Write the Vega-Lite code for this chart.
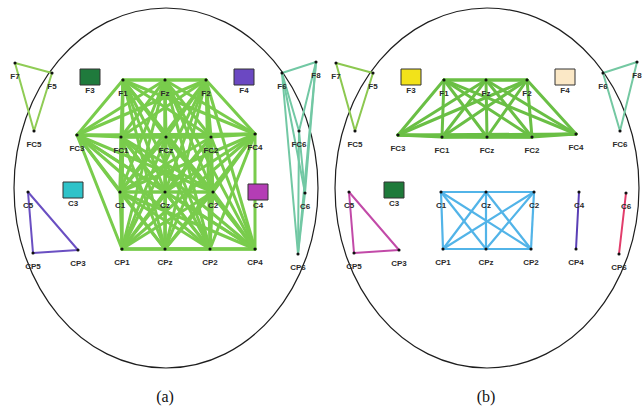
{
  "$schema": "https://vega.github.io/schema/vega-lite/v6.json",
  "padding": 0,
  "background": "white",
  "config": {"view": {"stroke": null}},
  "spacing": 0,
  "datasets": {
    "nodes": [
      {"name": "F7", "x": 15, "y": 63}, {"name": "F5", "x": 52, "y": 73}, {"name": "F3", "x": 90, "y": 77},
      {"name": "F1", "x": 123, "y": 80}, {"name": "Fz", "x": 165, "y": 80}, {"name": "F2", "x": 206, "y": 80},
      {"name": "F4", "x": 244, "y": 77}, {"name": "F6", "x": 282, "y": 73}, {"name": "F8", "x": 316, "y": 62},
      {"name": "FC5", "x": 34, "y": 131}, {"name": "FC3", "x": 77, "y": 135}, {"name": "FC1", "x": 121, "y": 137},
      {"name": "FCz", "x": 166, "y": 137}, {"name": "FC2", "x": 211, "y": 137}, {"name": "FC4", "x": 255, "y": 134},
      {"name": "FC6", "x": 299, "y": 131},
      {"name": "C5", "x": 28, "y": 192}, {"name": "C3", "x": 73, "y": 190}, {"name": "C1", "x": 120, "y": 192},
      {"name": "Cz", "x": 165, "y": 192}, {"name": "C2", "x": 213, "y": 192}, {"name": "C4", "x": 258, "y": 192},
      {"name": "C6", "x": 305, "y": 193},
      {"name": "CP5", "x": 33, "y": 253}, {"name": "CP3", "x": 78, "y": 250}, {"name": "CP1", "x": 122, "y": 249},
      {"name": "CPz", "x": 165, "y": 249}, {"name": "CP2", "x": 210, "y": 249}, {"name": "CP4", "x": 255, "y": 249},
      {"name": "CP6", "x": 298, "y": 254}
    ],
    "electrodes": [
      {"p": "a", "name": "F7", "sq": "none"}, {"p": "a", "name": "F5", "sq": "none"}, {"p": "a", "name": "F3", "sq": "aF3"},
      {"p": "a", "name": "F1", "sq": "none"}, {"p": "a", "name": "Fz", "sq": "none"}, {"p": "a", "name": "F2", "sq": "none"},
      {"p": "a", "name": "F4", "sq": "aF4"}, {"p": "a", "name": "F6", "sq": "none"}, {"p": "a", "name": "F8", "sq": "none"},
      {"p": "a", "name": "FC5", "sq": "none"}, {"p": "a", "name": "FC3", "sq": "none"}, {"p": "a", "name": "FC1", "sq": "none"},
      {"p": "a", "name": "FCz", "sq": "none"}, {"p": "a", "name": "FC2", "sq": "none"}, {"p": "a", "name": "FC4", "sq": "none"},
      {"p": "a", "name": "FC6", "sq": "none"},
      {"p": "a", "name": "C5", "sq": "none"}, {"p": "a", "name": "C3", "sq": "aC3"}, {"p": "a", "name": "C1", "sq": "none"},
      {"p": "a", "name": "Cz", "sq": "none"}, {"p": "a", "name": "C2", "sq": "none"}, {"p": "a", "name": "C4", "sq": "aC4"},
      {"p": "a", "name": "C6", "sq": "none"},
      {"p": "a", "name": "CP5", "sq": "none"}, {"p": "a", "name": "CP3", "sq": "none"}, {"p": "a", "name": "CP1", "sq": "none"},
      {"p": "a", "name": "CPz", "sq": "none"}, {"p": "a", "name": "CP2", "sq": "none"}, {"p": "a", "name": "CP4", "sq": "none"},
      {"p": "a", "name": "CP6", "sq": "none"},
      {"p": "b", "name": "F7", "sq": "none"}, {"p": "b", "name": "F5", "sq": "none"}, {"p": "b", "name": "F3", "sq": "bF3"},
      {"p": "b", "name": "F1", "sq": "none"}, {"p": "b", "name": "Fz", "sq": "none"}, {"p": "b", "name": "F2", "sq": "none"},
      {"p": "b", "name": "F4", "sq": "bF4"}, {"p": "b", "name": "F6", "sq": "none"}, {"p": "b", "name": "F8", "sq": "none"},
      {"p": "b", "name": "FC5", "sq": "none"}, {"p": "b", "name": "FC3", "sq": "none"}, {"p": "b", "name": "FC1", "sq": "none"},
      {"p": "b", "name": "FCz", "sq": "none"}, {"p": "b", "name": "FC2", "sq": "none"}, {"p": "b", "name": "FC4", "sq": "none"},
      {"p": "b", "name": "FC6", "sq": "none"},
      {"p": "b", "name": "C5", "sq": "none"}, {"p": "b", "name": "C3", "sq": "bC3"}, {"p": "b", "name": "C1", "sq": "none"},
      {"p": "b", "name": "Cz", "sq": "none"}, {"p": "b", "name": "C2", "sq": "none"}, {"p": "b", "name": "C4", "sq": "none"},
      {"p": "b", "name": "C6", "sq": "none"},
      {"p": "b", "name": "CP5", "sq": "none"}, {"p": "b", "name": "CP3", "sq": "none"}, {"p": "b", "name": "CP1", "sq": "none"},
      {"p": "b", "name": "CPz", "sq": "none"}, {"p": "b", "name": "CP2", "sq": "none"}, {"p": "b", "name": "CP4", "sq": "none"},
      {"p": "b", "name": "CP6", "sq": "none"}
    ],
    "edges": [
      {"p": "a", "g": "a1", "s": "F1", "t": ["Fz","F2","FC3","FC1","FCz","FC2","FC4","C1","Cz","C2","CP1","CPz","CP2","CP4"]},
      {"p": "a", "g": "a1", "s": "Fz", "t": ["F2","FC3","FC1","FCz","FC2","FC4","C1","Cz","C2","CP1","CPz","CP2","CP4"]},
      {"p": "a", "g": "a1", "s": "F2", "t": ["FC3","FC1","FCz","FC2","FC4","C1","Cz","C2","CP1","CPz","CP2","CP4"]},
      {"p": "a", "g": "a1", "s": "FC3", "t": ["FC1","FCz","FC2","FC4","C1","Cz","C2","CP1","CPz","CP2","CP4"]},
      {"p": "a", "g": "a1", "s": "FC1", "t": ["FCz","FC2","FC4","C1","Cz","C2","CP1","CPz","CP2","CP4"]},
      {"p": "a", "g": "a1", "s": "FCz", "t": ["FC2","FC4","C1","Cz","C2","CP1","CPz","CP2","CP4"]},
      {"p": "a", "g": "a1", "s": "FC2", "t": ["FC4","C1","Cz","C2","CP1","CPz","CP2","CP4"]},
      {"p": "a", "g": "a1", "s": "FC4", "t": ["C1","Cz","C2","CP1","CPz","CP2","CP4"]},
      {"p": "a", "g": "a1", "s": "C1", "t": ["Cz","C2","CP1","CPz","CP2","CP4"]},
      {"p": "a", "g": "a1", "s": "Cz", "t": ["C2","CP1","CPz","CP2","CP4"]},
      {"p": "a", "g": "a1", "s": "C2", "t": ["CP1","CPz","CP2","CP4"]},
      {"p": "a", "g": "a1", "s": "CP1", "t": ["CPz","CP2","CP4"]},
      {"p": "a", "g": "a1", "s": "CPz", "t": ["CP2","CP4"]},
      {"p": "a", "g": "a1", "s": "CP2", "t": ["CP4"]},
      {"p": "a", "g": "a2", "s": "F7", "t": ["F5","FC5"]},
      {"p": "a", "g": "a2", "s": "F5", "t": ["FC5"]},
      {"p": "a", "g": "a3", "s": "F6", "t": ["F8","FC6","C6","CP6"]},
      {"p": "a", "g": "a3", "s": "F8", "t": ["FC6","C6","CP6"]},
      {"p": "a", "g": "a3", "s": "FC6", "t": ["C6","CP6"]},
      {"p": "a", "g": "a3", "s": "C6", "t": ["CP6"]},
      {"p": "a", "g": "a4", "s": "C5", "t": ["CP5","CP3"]},
      {"p": "a", "g": "a4", "s": "CP5", "t": ["CP3"]},
      {"p": "b", "g": "b1", "s": "F1", "t": ["Fz","F2","FC3","FC1","FCz","FC2","FC4"]},
      {"p": "b", "g": "b1", "s": "Fz", "t": ["F2","FC3","FC1","FCz","FC2","FC4"]},
      {"p": "b", "g": "b1", "s": "F2", "t": ["FC3","FC1","FCz","FC2","FC4"]},
      {"p": "b", "g": "b1", "s": "FC3", "t": ["FC1","FCz","FC2","FC4"]},
      {"p": "b", "g": "b1", "s": "FC1", "t": ["FCz","FC2","FC4"]},
      {"p": "b", "g": "b1", "s": "FCz", "t": ["FC2","FC4"]},
      {"p": "b", "g": "b1", "s": "FC2", "t": ["FC4"]},
      {"p": "b", "g": "b2", "s": "F7", "t": ["F5","FC5"]},
      {"p": "b", "g": "b2", "s": "F5", "t": ["FC5"]},
      {"p": "b", "g": "b3", "s": "F6", "t": ["F8","FC6"]},
      {"p": "b", "g": "b3", "s": "F8", "t": ["FC6"]},
      {"p": "b", "g": "b4", "s": "C5", "t": ["CP5","CP3"]},
      {"p": "b", "g": "b4", "s": "CP5", "t": ["CP3"]},
      {"p": "b", "g": "b5", "s": "C1", "t": ["Cz","C2","CP1","CPz","CP2"]},
      {"p": "b", "g": "b5", "s": "Cz", "t": ["C2","CP1","CPz","CP2"]},
      {"p": "b", "g": "b5", "s": "C2", "t": ["CP1","CPz","CP2"]},
      {"p": "b", "g": "b5", "s": "CP1", "t": ["CPz","CP2"]},
      {"p": "b", "g": "b5", "s": "CPz", "t": ["CP2"]},
      {"p": "b", "g": "b6", "s": "C4", "t": ["CP4"]},
      {"p": "b", "g": "b7", "s": "C6", "t": ["CP6"]}
    ],
    "captions": [
      {"p": "a", "cap": "(a)"}, {"p": "b", "cap": "(b)"}
    ]
  },
  "hconcat": [
    {
      "width": 321, "height": 409,
      "layer": [
        {
          "data": {"values": [{"head": "a"}]},
          "mark": {"type": "point", "shape": "M 0.8444 0 C 0.8444 0.5523 0.4664 1 0 1 C -0.4664 1 -0.8444 0.5523 -0.8444 0 C -0.8444 -0.5523 -0.4664 -1 0 -1 C 0.4664 -1 0.8444 -0.5523 0.8444 0 Z", "size": 129600, "filled": false, "stroke": "#1e1e1e", "strokeWidth": 1.2, "opacity": 1},
          "encoding": {
            "x": {"datum": 166, "type": "quantitative", "scale": {"domain": [0, 321], "nice": false, "zero": false}, "axis": null},
            "y": {"datum": 188, "type": "quantitative", "scale": {"domain": [0, 409], "nice": false, "zero": false, "reverse": true}, "axis": null}
          }
        },
        {
          "data": {"name": "edges"},
          "transform": [
            {"filter": "datum.p === 'a'"},
            {"flatten": ["t"]},
            {"lookup": "s", "from": {"data": {"name": "nodes"}, "key": "name", "fields": ["x", "y"]}, "as": ["x1", "y1"]},
            {"lookup": "t", "from": {"data": {"name": "nodes"}, "key": "name", "fields": ["x", "y"]}, "as": ["x2", "y2"]}
          ],
          "mark": {"type": "rule", "strokeCap": "round"},
          "encoding": {
            "x": {"field": "x1", "type": "quantitative", "scale": {"domain": [0, 321], "nice": false, "zero": false}, "axis": null},
            "y": {"field": "y1", "type": "quantitative", "scale": {"domain": [0, 409], "nice": false, "zero": false, "reverse": true}, "axis": null},
            "x2": {"field": "x2"},
            "y2": {"field": "y2"},
            "color": {"field": "g", "type": "nominal", "legend": null,
              "scale": {"domain": ["a1","a2","a3","a4","b1","b2","b3","b4","b5","b6","b7"],
                        "range": ["#79cc4c","#8fcc55","#72c8a4","#6a4fc2","#6abf45","#8cc850","#74c8a2","#c24aa8","#52b4e8","#5a3fb5","#e23d6b"]}},
            "strokeWidth": {"field": "g", "type": "nominal", "legend": null,
              "scale": {"type": "ordinal", "domain": ["a1","a2","a3","a4","b1","b2","b3","b4","b5","b6","b7"],
                        "range": [3, 2, 2, 2, 3, 2, 2, 2, 2.2, 2, 2]}}
          }
        },
        {
          "data": {"name": "electrodes"},
          "transform": [
            {"filter": "datum.p === 'a'"},
            {"lookup": "name", "from": {"data": {"name": "nodes"}, "key": "name", "fields": ["x", "y"]}}
          ],
          "layer": [
            {
              "transform": [{"filter": "datum.sq !== 'none'"}],
              "mark": {"type": "point", "shape": "M -1 -0.8 L 1 -0.8 L 1 0.8 L -1 0.8 Z", "size": 400, "filled": true, "stroke": "#333333", "strokeWidth": 1, "opacity": 1},
              "encoding": {
                "x": {"field": "x", "type": "quantitative", "axis": null},
                "y": {"field": "y", "type": "quantitative", "axis": null},
                "fill": {"field": "sq", "type": "nominal", "legend": null,
                  "scale": {"domain": ["aF3","aF4","aC3","aC4","bF3","bF4","bC3"],
                            "range": ["#1f7a3c","#6b48c2","#2fc3c9","#b43db5","#f2e21a","#fbe8c6","#1e7a3a"]}}
              }
            },
            {
              "transform": [{"filter": "datum.sq === 'none'"}],
              "mark": {"type": "point", "filled": true, "color": "#111111", "size": 10, "opacity": 1},
              "encoding": {
                "x": {"field": "x", "type": "quantitative", "axis": null},
                "y": {"field": "y", "type": "quantitative", "axis": null}
              }
            },
            {
              "mark": {"type": "text", "font": "Liberation Sans", "fontWeight": "bold", "fontSize": 8, "color": "#2b2b2b", "dy": 14, "baseline": "middle", "align": "center"},
              "encoding": {
                "x": {"field": "x", "type": "quantitative", "axis": null},
                "y": {"field": "y", "type": "quantitative", "axis": null},
                "text": {"field": "name"}
              }
            }
          ]
        },
        {
          "data": {"name": "captions"},
          "transform": [{"filter": "datum.p === 'a'"}],
          "mark": {"type": "text", "font": "Liberation Serif", "fontSize": 16, "color": "#111111", "baseline": "middle", "align": "center"},
          "encoding": {
            "x": {"datum": 165, "type": "quantitative"},
            "y": {"datum": 397, "type": "quantitative"},
            "text": {"field": "cap"}
          }
        }
      ]
    },
    {
      "width": 321, "height": 409,
      "layer": [
        {
          "data": {"values": [{"head": "b"}]},
          "mark": {"type": "point", "shape": "M 0.8444 0 C 0.8444 0.5523 0.4664 1 0 1 C -0.4664 1 -0.8444 0.5523 -0.8444 0 C -0.8444 -0.5523 -0.4664 -1 0 -1 C 0.4664 -1 0.8444 -0.5523 0.8444 0 Z", "size": 129600, "filled": false, "stroke": "#1e1e1e", "strokeWidth": 1.2, "opacity": 1},
          "encoding": {
            "x": {"datum": 166, "type": "quantitative", "scale": {"domain": [0, 321], "nice": false, "zero": false}, "axis": null},
            "y": {"datum": 188, "type": "quantitative", "scale": {"domain": [0, 409], "nice": false, "zero": false, "reverse": true}, "axis": null}
          }
        },
        {
          "data": {"name": "edges"},
          "transform": [
            {"filter": "datum.p === 'b'"},
            {"flatten": ["t"]},
            {"lookup": "s", "from": {"data": {"name": "nodes"}, "key": "name", "fields": ["x", "y"]}, "as": ["x1", "y1"]},
            {"lookup": "t", "from": {"data": {"name": "nodes"}, "key": "name", "fields": ["x", "y"]}, "as": ["x2", "y2"]}
          ],
          "mark": {"type": "rule", "strokeCap": "round"},
          "encoding": {
            "x": {"field": "x1", "type": "quantitative", "scale": {"domain": [0, 321], "nice": false, "zero": false}, "axis": null},
            "y": {"field": "y1", "type": "quantitative", "scale": {"domain": [0, 409], "nice": false, "zero": false, "reverse": true}, "axis": null},
            "x2": {"field": "x2"},
            "y2": {"field": "y2"},
            "color": {"field": "g", "type": "nominal", "legend": null,
              "scale": {"domain": ["a1","a2","a3","a4","b1","b2","b3","b4","b5","b6","b7"],
                        "range": ["#79cc4c","#8fcc55","#72c8a4","#6a4fc2","#6abf45","#8cc850","#74c8a2","#c24aa8","#52b4e8","#5a3fb5","#e23d6b"]}},
            "strokeWidth": {"field": "g", "type": "nominal", "legend": null,
              "scale": {"type": "ordinal", "domain": ["a1","a2","a3","a4","b1","b2","b3","b4","b5","b6","b7"],
                        "range": [3, 2, 2, 2, 3, 2, 2, 2, 2.2, 2, 2]}}
          }
        },
        {
          "data": {"name": "electrodes"},
          "transform": [
            {"filter": "datum.p === 'b'"},
            {"lookup": "name", "from": {"data": {"name": "nodes"}, "key": "name", "fields": ["x", "y"]}}
          ],
          "layer": [
            {
              "transform": [{"filter": "datum.sq !== 'none'"}],
              "mark": {"type": "point", "shape": "M -1 -0.8 L 1 -0.8 L 1 0.8 L -1 0.8 Z", "size": 400, "filled": true, "stroke": "#333333", "strokeWidth": 1, "opacity": 1},
              "encoding": {
                "x": {"field": "x", "type": "quantitative", "axis": null},
                "y": {"field": "y", "type": "quantitative", "axis": null},
                "fill": {"field": "sq", "type": "nominal", "legend": null,
                  "scale": {"domain": ["aF3","aF4","aC3","aC4","bF3","bF4","bC3"],
                            "range": ["#1f7a3c","#6b48c2","#2fc3c9","#b43db5","#f2e21a","#fbe8c6","#1e7a3a"]}}
              }
            },
            {
              "transform": [{"filter": "datum.sq === 'none'"}],
              "mark": {"type": "point", "filled": true, "color": "#111111", "size": 10, "opacity": 1},
              "encoding": {
                "x": {"field": "x", "type": "quantitative", "axis": null},
                "y": {"field": "y", "type": "quantitative", "axis": null}
              }
            },
            {
              "mark": {"type": "text", "font": "Liberation Sans", "fontWeight": "bold", "fontSize": 8, "color": "#2b2b2b", "dy": 14, "baseline": "middle", "align": "center"},
              "encoding": {
                "x": {"field": "x", "type": "quantitative", "axis": null},
                "y": {"field": "y", "type": "quantitative", "axis": null},
                "text": {"field": "name"}
              }
            }
          ]
        },
        {
          "data": {"name": "captions"},
          "transform": [{"filter": "datum.p === 'b'"}],
          "mark": {"type": "text", "font": "Liberation Serif", "fontSize": 16, "color": "#111111", "baseline": "middle", "align": "center"},
          "encoding": {
            "x": {"datum": 165, "type": "quantitative"},
            "y": {"datum": 397, "type": "quantitative"},
            "text": {"field": "cap"}
          }
        }
      ]
    }
  ]
}
